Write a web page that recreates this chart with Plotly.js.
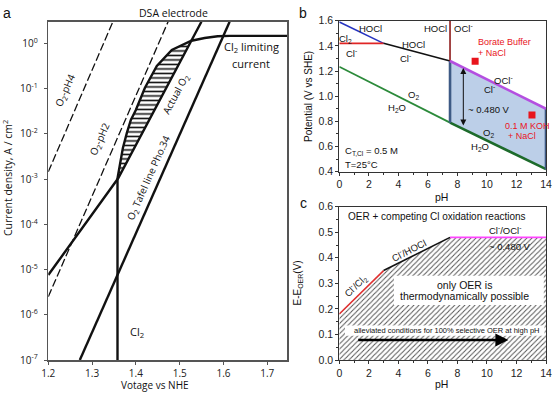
<!DOCTYPE html>
<html><head><meta charset="utf-8">
<script src="https://cdn.plot.ly/plotly-3.0.1.min.js"></script>
<style>html,body{margin:0;padding:0;background:#fff;}#plot{width:554px;height:393px;}</style>
</head><body><div id="plot"></div>
<script>
// ---------- Panel a : DSA electrode (potential V vs NHE, log10 current density) ----------
const o2pH4V = [1.2, 1.3475];
const o2pH4L = [-2.84, 0.478];
const o2pH2V = [1.2, 1.4735];
const o2pH2L = [-5.6, 0.478];
const actualO2V = [1.2, 1.3595, 1.5496];
const actualO2L = [-5.12, -2.984, 0.478];
const tafelV = [1.272, 1.614];
const tafelL = [-7, 0.478];
const cl2V = [1.358, 1.358, 1.3634, 1.3702, 1.3794, 1.3885, 1.3999, 1.4204, 1.4478, 1.482, 1.5268, 1.557, 1.5867, 1.614, 1.745];
const cl2L = [-7, -2.984, -2.69, -2.318, -1.98, -1.695, -1.474, -0.988, -0.502, -0.148, 0.057, 0.117, 0.155, 0.165, 0.165];
const hatchV = [1.3595, 1.3634, 1.3702, 1.3794, 1.3885, 1.3999, 1.4204, 1.4478, 1.482, 1.5268, 1.3595];
const hatchL = [-2.984, -2.69, -2.318, -1.98, -1.695, -1.474, -0.988, -0.502, -0.148, 0.057, -2.984];
const aXTicks = [1.2, 1.3, 1.4, 1.5, 1.6, 1.7];
const aXTickText = ['1.2', '1.3', '1.4', '1.5', '1.6', '1.7'];
const aYExp = [-7, -6, -5, -4, -3, -2, -1, 0];
const aYTickText = ['10<sup>-7</sup>', '10<sup>-6</sup>', '10<sup>-5</sup>', '10<sup>-4</sup>', '10<sup>-3</sup>', '10<sup>-2</sup>', '10<sup>-1</sup>', '10<sup>0</sup>'];

// ---------- Panel b : Pourbaix diagram ----------
const bluePH = [0, 3];      const blueE = [1.59, 1.42];
const redPH = [0, 3];       const redE = [1.42, 1.42];
const blackPH = [3, 7.5];   const blackE = [1.42, 1.28];
const vlinePH = [7.5, 7.5]; const vlineE = [1.28, 1.6];
const magPH = [7.5, 14];    const magE = [1.28, 0.90];
const greenPH = [0, 7.5];   const greenE = [1.234, 0.79];
const green2PH = [7.5, 14]; const green2E = [0.79, 0.42];
const regionPH = [7.5, 14, 14, 7.5, 7.5];
const regionE = [1.28, 0.90, 0.42, 0.79, 1.28];
const edge1PH = [7.5, 7.5]; const edge1E = [0.79, 1.28];
const edge2PH = [14, 14];   const edge2E = [0.42, 0.90];
const expPH = [9.2, 13.05]; const expE = [1.277, 0.85];
const bXTicks = [0, 2, 4, 6, 8, 10, 12, 14];
const bYTicks = [0.4, 0.6, 0.8, 1.0, 1.2, 1.4, 1.6];

// ---------- Panel c : E - E_OER ----------
const cHatchPH = [0, 0, 3, 7.5, 14, 14, 0];
const cHatchE = [0, 0.18, 0.35, 0.48, 0.48, 0, 0];
const cRedPH = [0, 3];     const cRedE = [0.18, 0.35];
const cBlackPH = [3, 7.5]; const cBlackE = [0.35, 0.48];
const cMagPH = [7.5, 14];  const cMagE = [0.48, 0.48];
const cYTicks = [0.0, 0.1, 0.2, 0.3, 0.4, 0.5, 0.6];

const pw = 554, ph = 393;
const px = v => v / pw, py = v => 1 - v / ph;
const pow10 = a => a.map(v => Math.pow(10, v));

const AF = 'Open Sans, Noto Sans, sans-serif';
const NF = 'Liberation Sans Narrow, Arial Narrow, Liberation Sans, Arial, sans-serif';
const SF = 'Liberation Sans, Arial, sans-serif';

const traces = [
  // panel a
  {x: hatchV, y: pow10(hatchL), xaxis: 'x', yaxis: 'y', mode: 'lines', fill: 'toself', fillcolor: '#fff',
   fillpattern: {shape: '-', size: 4.5, solidity: 0.35, fgcolor: '#111'}, line: {width: 0}, hoverinfo: 'skip'},
  {x: o2pH4V, y: pow10(o2pH4L), xaxis: 'x', yaxis: 'y', mode: 'lines', line: {color: '#111', width: 1.3, dash: '8px,3px'}},
  {x: o2pH2V, y: pow10(o2pH2L), xaxis: 'x', yaxis: 'y', mode: 'lines', line: {color: '#111', width: 1.3, dash: '8px,3px'}},
  {x: actualO2V, y: pow10(actualO2L), xaxis: 'x', yaxis: 'y', mode: 'lines', line: {color: '#111', width: 2.4}},
  {x: tafelV, y: pow10(tafelL), xaxis: 'x', yaxis: 'y', mode: 'lines', line: {color: '#111', width: 2.4}},
  {x: cl2V, y: pow10(cl2L), xaxis: 'x', yaxis: 'y', mode: 'lines', line: {color: '#111', width: 2.4}},
  // panel b
  {x: regionPH, y: regionE, xaxis: 'x2', yaxis: 'y2', mode: 'lines', fill: 'toself', fillcolor: '#bccfe8', line: {width: 0}},
  {x: bluePH, y: blueE, xaxis: 'x2', yaxis: 'y2', mode: 'lines', line: {color: '#2633c0', width: 1.6}},
  {x: redPH, y: redE, xaxis: 'x2', yaxis: 'y2', mode: 'lines', line: {color: '#e02525', width: 1.6}},
  {x: blackPH, y: blackE, xaxis: 'x2', yaxis: 'y2', mode: 'lines', line: {color: '#111', width: 1.6}},
  {x: vlinePH, y: vlineE, xaxis: 'x2', yaxis: 'y2', mode: 'lines', line: {color: '#8e1b1b', width: 1.6}},
  {x: greenPH, y: greenE, xaxis: 'x2', yaxis: 'y2', mode: 'lines', line: {color: '#2b8a3a', width: 1.8}},
  {x: green2PH, y: green2E, xaxis: 'x2', yaxis: 'y2', mode: 'lines', line: {color: '#1d6b2b', width: 2.6}},
  {x: edge1PH, y: edge1E, xaxis: 'x2', yaxis: 'y2', mode: 'lines', line: {color: '#3d5a85', width: 2.6}},
  {x: edge2PH, y: edge2E, xaxis: 'x2', yaxis: 'y2', mode: 'lines', line: {color: '#3d5a85', width: 2.6}},
  {x: magPH, y: magE, xaxis: 'x2', yaxis: 'y2', mode: 'lines', line: {color: '#b44fe0', width: 2.6}},
  {x: expPH, y: expE, xaxis: 'x2', yaxis: 'y2', mode: 'markers', marker: {symbol: 'square', size: 7, color: '#e8141c'}},
  // panel c
  {x: cHatchPH, y: cHatchE, xaxis: 'x3', yaxis: 'y3', mode: 'lines', fill: 'toself', fillcolor: '#fff',
   fillpattern: {shape: '/', size: 3.6, solidity: 0.28, fgcolor: '#555'}, line: {width: 0}, hoverinfo: 'skip'},
  {x: cRedPH, y: cRedE, xaxis: 'x3', yaxis: 'y3', mode: 'lines', line: {color: '#e03030', width: 1.6}},
  {x: cBlackPH, y: cBlackE, xaxis: 'x3', yaxis: 'y3', mode: 'lines', line: {color: '#111', width: 1.6}},
  {x: cMagPH, y: cMagE, xaxis: 'x3', yaxis: 'y3', mode: 'lines', line: {color: '#ff44ff', width: 1.8}}
];

const axB = {showgrid: false, zeroline: false, showline: true, mirror: true, linecolor: '#333', linewidth: 1,
  ticks: 'outside', ticklen: 3, tickcolor: '#333', tickfont: {family: NF, size: 10.5, color: '#222'}};

const layout = {
  width: pw, height: ph, margin: {l: 0, r: 0, t: 0, b: 0}, paper_bgcolor: '#fff', plot_bgcolor: 'rgba(0,0,0,0)',
  showlegend: false,
  xaxis: {domain: [px(48.3), px(287)], range: [1.2, 1.745], anchor: 'y', tickmode: 'array', tickvals: aXTicks, ticktext: aXTickText,
    showgrid: false, zeroline: false, showline: true, mirror: true, linecolor: '#555', linewidth: 1.5,
    ticks: 'outside', ticklen: 3, tickcolor: '#555', tickfont: {family: AF, size: 10, color: '#222'}},
  yaxis: {domain: [py(360), py(21.7)], type: 'log', range: [-7, 0.478], anchor: 'x', tickmode: 'array',
    tickvals: pow10(aYExp), ticktext: aYTickText,
    showgrid: false, zeroline: false, showline: true, mirror: true, linecolor: '#555', linewidth: 1.5,
    ticks: 'outside', ticklen: 3, tickcolor: '#555', ticklabelstandoff: 4, tickfont: {family: AF, size: 10, color: '#222'}},
  xaxis2: Object.assign({}, axB, {domain: [px(339.3), px(546)], range: [0, 14], anchor: 'y2', tickmode: 'array', tickvals: bXTicks,
    minor: {dtick: 1, ticklen: 2, ticks: 'outside', tickcolor: '#333'}}),
  yaxis2: Object.assign({}, axB, {domain: [py(171.7), py(20.7)], range: [0.4, 1.6], anchor: 'x2', tickmode: 'array', tickvals: bYTicks,
    ticktext: bYTicks.map(v => v.toFixed(1)), minor: {dtick: 0.1, ticklen: 2, ticks: 'outside', tickcolor: '#333'}}),
  xaxis3: Object.assign({}, axB, {domain: [px(339.3), px(546)], range: [0, 14], anchor: 'y3', tickmode: 'array', tickvals: bXTicks,
    minor: {dtick: 1, ticklen: 2, ticks: 'outside', tickcolor: '#333'}}),
  yaxis3: Object.assign({}, axB, {domain: [py(360), py(206.7)], range: [0, 0.6], anchor: 'x3', tickmode: 'array', tickvals: cYTicks,
    ticktext: cYTicks.map(v => v.toFixed(1)), minor: {dtick: 0.05, ticklen: 2, ticks: 'outside', tickcolor: '#333'}}),
  shapes: [
    {type: 'rect', xref: 'x3', yref: 'y3', x0: 3.7, x1: 13.85, y0: 0.215, y1: 0.33, fillcolor: '#fff', line: {width: 0}},
    {type: 'rect', xref: 'x3', yref: 'y3', x0: 0.38, x1: 13.9, y0: 0.095, y1: 0.135, fillcolor: '#fff', line: {width: 0}}
  ],
  annotations: []
};

const A = layout.annotations;
function pap(t, x, y, size, fam, extra) {
  A.push(Object.assign({text: t, xref: 'paper', yref: 'paper', x: px(x), y: py(y), showarrow: false,
    xanchor: 'center', yanchor: 'middle', font: {family: fam, size: size, color: '#111'}}, extra || {}));
}
function dat(t, xr, yr, x, y, size, fam, extra) {
  A.push(Object.assign({text: t, xref: xr, yref: yr, x: x, y: y, showarrow: false,
    xanchor: 'center', yanchor: 'middle', font: {family: fam, size: size, color: '#111'}}, extra || {}));
}
// panel labels & titles
pap('a', 7.3, 13.3, 14, SF);
pap('b', 303.3, 13.3, 14, SF);
pap('c', 303.3, 203.3, 14, SF);
pap('DSA electrode', 173.3, 13.3, 10.5, AF);
pap('Votage vs NHE', 155, 385, 10, AF);
pap('Current density, A / cm<sup>2</sup>', 8, 178, 10.5, AF, {textangle: -90});
pap('Potential (V vs SHE)', 308, 97, 10, SF, {textangle: -90});
pap('pH', 441.7, 197, 10.5, NF);
pap('E-E<sub>OER</sub>(V)', 297.5, 283, 10, SF, {textangle: -90});
pap('pH', 441.7, 384, 10.5, NF);

// panel a labels
dat('O<sub>2</sub>-pH4', 'x', 'y', 1.24, -1.03, 10, AF, {textangle: -66});
dat('O<sub>2</sub>-pH2', 'x', 'y', 1.318, -2.1, 10, AF, {textangle: -66});
dat('Actual O<sub>2</sub>', 'x', 'y', 1.4903, -1.127, 10, AF, {textangle: -62});
dat('O<sub>2</sub> Tafel line Pho.34', 'x', 'y', 1.4279, -2.984, 10, AF, {textangle: -66});
dat('Cl<sub>2</sub> limiting', 'x', 'y', 1.6635, -0.075, 11, AF);
dat('current', 'x', 'y', 1.6635, -0.44, 11, AF);
dat('Cl<sub>2</sub>', 'x', 'y', 1.4015, -6.37, 11, AF);

// panel b labels
const bs = 9.5;
dat('HOCl', 'x2', 'y2', 2.08, 1.54, bs, NF);
dat('Cl<sub>2</sub>', 'x2', 'y2', 0.43, 1.455, bs, NF);
dat('Cl<sup>-</sup>', 'x2', 'y2', 0.84, 1.34, bs, NF);
dat('HOCl', 'x2', 'y2', 5.01, 1.412, bs, NF);
dat('Cl<sup>-</sup>', 'x2', 'y2', 4.45, 1.30, bs, NF);
dat('HOCl', 'x2', 'y2', 7.4, 1.54, bs, NF, {xanchor: 'right'});
dat('OCl<sup>-</sup>', 'x2', 'y2', 7.62, 1.54, bs, NF, {xanchor: 'left'});
dat('Borate Buffer', 'x2', 'y2', 9.25, 1.428, 9, NF, {xanchor: 'left', font: {family: NF, size: 9, color: '#e8141c'}});
dat('+ NaCl', 'x2', 'y2', 9.25, 1.345, 9, NF, {xanchor: 'left', font: {family: NF, size: 9, color: '#e8141c'}});
dat('OCl<sup>-</sup>', 'x2', 'y2', 11.1, 1.13, bs, NF);
dat('Cl<sup>-</sup>', 'x2', 'y2', 10.2, 1.06, bs, NF);
dat('~ 0.480 V', 'x2', 'y2', 8.56, 0.896, bs, NF, {xanchor: 'left'});
dat('0.1 M KOH', 'x2', 'y2', 11.1, 0.764, 9, NF, {xanchor: 'left', font: {family: NF, size: 9, color: '#e8141c'}});
dat('+ NaCl', 'x2', 'y2', 11.3, 0.68, 9, NF, {xanchor: 'left', font: {family: NF, size: 9, color: '#e8141c'}});
dat('O<sub>2</sub>', 'x2', 'y2', 5.0, 1.01, bs, NF);
dat('H<sub>2</sub>O', 'x2', 'y2', 3.9, 0.904, bs, NF);
dat('O<sub>2</sub>', 'x2', 'y2', 10.1, 0.705, bs, NF);
dat('H<sub>2</sub>O', 'x2', 'y2', 9.53, 0.60, bs, NF);
dat('C<sub>T,Cl</sub> = 0.5 M', 'x2', 'y2', 0.23, 0.567, bs, NF, {xanchor: 'left'});
dat('T=25°C', 'x2', 'y2', 0.23, 0.46, bs, NF, {xanchor: 'left'});
A.push({xref: 'x2', yref: 'y2', x: 8.4, y: 1.225, ax: 8.4, ay: 0.755, axref: 'x2', ayref: 'y2', text: '',
  showarrow: true, arrowside: 'end+start', arrowhead: 2, arrowsize: 1.2, arrowwidth: 1, arrowcolor: '#111'});

// panel c labels
dat('OER + competing Cl oxidation reactions', 'x3', 'y3', 6.6, 0.563, 10, NF);
dat('Cl<sup>-</sup>/OCl<sup>-</sup>', 'x3', 'y3', 11.2, 0.507, 9.5, NF);
dat('~ 0.480 V', 'x3', 'y3', 11.56, 0.446, 9.5, NF);
dat('Cl<sup>-</sup>/HOCl', 'x3', 'y3', 4.7, 0.432, 9.5, NF, {textangle: -27});
dat('Cl<sup>-</sup>/Cl<sub>2</sub>', 'x3', 'y3', 1.12, 0.292, 9.5, NF, {textangle: -44});
dat('only OER is', 'x3', 'y3', 8.5, 0.292, 10.5, NF);
dat('thermodynamically possible', 'x3', 'y3', 8.5, 0.252, 10.5, NF);
dat('alleviated conditions for 100% selective OER at high pH', 'x3', 'y3', 7.3, 0.115, 7.5, NF);
A.push({xref: 'x3', yref: 'y3', x: 11.45, y: 0.078, ax: 1.18, ay: 0.078, axref: 'x3', ayref: 'y3', text: '',
  showarrow: true, arrowhead: 2, arrowsize: 1, arrowwidth: 2.6, arrowcolor: '#000'});

Plotly.newPlot('plot', traces, layout, {staticPlot: true, displayModeBar: false});
</script>
</body></html>
